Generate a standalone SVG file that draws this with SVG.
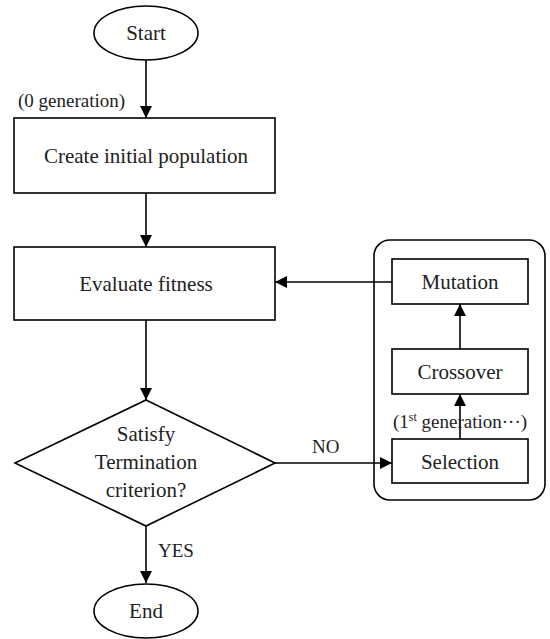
<svg xmlns="http://www.w3.org/2000/svg" width="550" height="639" viewBox="0 0 550 639">
<style>
.s{fill:#fff;stroke:#000;stroke-width:1.6}
.t{font-family:'Liberation Serif', 'DejaVu Serif', serif;font-size:21px;fill:#222;text-anchor:middle}
.l{font-family:'Liberation Serif', 'DejaVu Serif', serif;font-size:19px;fill:#222}
.c{fill:none;stroke:#000;stroke-width:1.6}
</style>
<defs>
<marker id="a" markerWidth="12" markerHeight="12" refX="12" refY="6" orient="auto" markerUnits="userSpaceOnUse">
<path d="M0,0 L12,6 L0,12 Z" fill="#000"/>
</marker>
</defs>
<rect x="374" y="240" width="171" height="260" rx="16" ry="16" class="s"/>
<g id="connectors">
<line x1="146" y1="60" x2="146" y2="118" class="c" marker-end="url(#a)"/>
<line x1="146" y1="193" x2="146" y2="247" class="c" marker-end="url(#a)"/>
<line x1="146" y1="320" x2="146" y2="400" class="c" marker-end="url(#a)"/>
<line x1="146" y1="526" x2="146" y2="583" class="c" marker-end="url(#a)"/>
<line x1="275" y1="463" x2="392" y2="463" class="c" marker-end="url(#a)"/>
<line x1="392" y1="282" x2="275" y2="282" class="c" marker-end="url(#a)"/>
<line x1="460" y1="349" x2="460" y2="304" class="c" marker-end="url(#a)"/>
<line x1="460" y1="439" x2="460" y2="394" class="c" marker-end="url(#a)"/>
<text x="18" y="107" class="l">(0 generation)</text>
<text x="312" y="453" class="l">NO</text>
<text x="158" y="557" class="l">YES</text>
<text x="460" y="428" class="l" text-anchor="middle">(1<tspan font-size="12" dy="-7">st</tspan><tspan dy="7"> generation···)</tspan></text>
</g>
<g id="start"><ellipse cx="146" cy="33" rx="52" ry="27" class="s"/><text x="146" y="40" class="t">Start</text></g>
<g id="create"><rect x="14" y="118" width="261" height="75" class="s"/><text x="146" y="163" class="t">Create initial population</text></g>
<g id="evaluate"><rect x="14" y="247" width="261" height="73" class="s"/><text x="146" y="291" class="t">Evaluate fitness</text></g>
<g id="decision"><polygon points="146,400 275,463 146,526 15,463" class="s"/><text x="146" y="441" class="t">Satisfy</text><text x="146" y="469" class="t">Termination</text><text x="146" y="497" class="t">criterion?</text></g>
<g id="end"><ellipse cx="146" cy="611" rx="52" ry="27" class="s"/><text x="146" y="618" class="t">End</text></g>
<g id="mutation"><rect x="392" y="259" width="136" height="45" class="s"/><text x="460" y="289" class="t">Mutation</text></g>
<g id="crossover"><rect x="392" y="349" width="136" height="45" class="s"/><text x="460" y="379" class="t">Crossover</text></g>
<g id="selection"><rect x="392" y="439" width="136" height="44" class="s"/><text x="460" y="469" class="t">Selection</text></g>
</svg>
